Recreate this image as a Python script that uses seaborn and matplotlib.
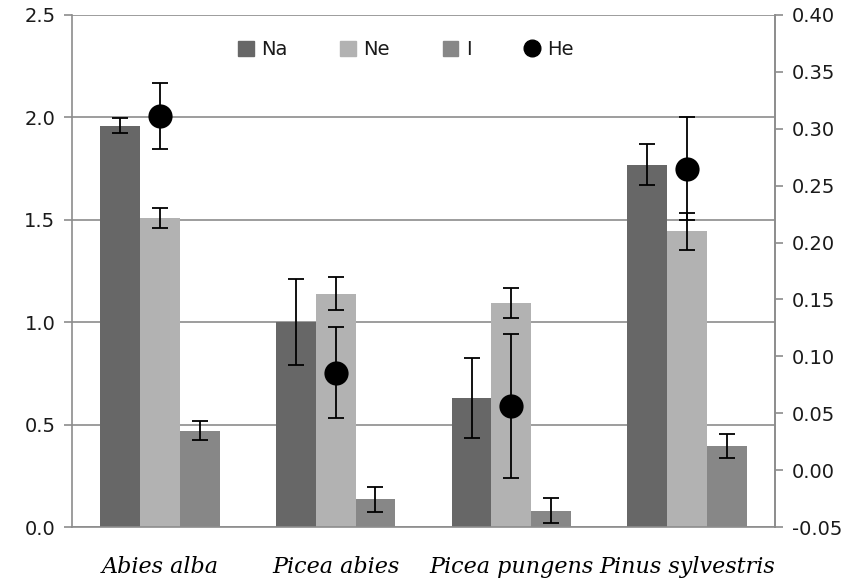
import pandas as pd
import numpy as np
import seaborn as sns
import matplotlib.pyplot as plt
from matplotlib.lines import Line2D
from matplotlib.patches import Patch

species = ['Abies alba', 'Picea abies', 'Picea pungens', 'Pinus sylvestris']
na = [1.96, 1.00, 0.63, 1.77]
na_err = [0.035, 0.21, 0.195, 0.10]
ne = [1.51, 1.14, 1.095, 1.445]
ne_err = [0.05, 0.08, 0.073, 0.09]
i_val = [0.47, 0.135, 0.08, 0.395]
i_err = [0.047, 0.06, 0.06, 0.058]
he = [0.311, 0.0855, 0.0565, 0.265]
he_err = [0.029, 0.04, 0.063, 0.045]

sns.set_style('white')
plt.rcParams['font.family'] = ['DejaVu Sans']

df = pd.DataFrame({
    'species': species * 3,
    'measure': ['Na'] * 4 + ['Ne'] * 4 + ['I'] * 4,
    'value': na + ne + i_val,
    'err': na_err + ne_err + i_err,
})
colors = {'Na': '#676767', 'Ne': '#b2b2b2', 'I': '#878787'}

fig = plt.figure(figsize=(8.54, 5.88), dpi=100)
ax = fig.add_axes([0.0843, 0.1037, 0.8232, 0.8708])
sns.barplot(data=df, x='species', y='value', hue='measure', palette=colors,
            width=0.68, errorbar=None, ax=ax, legend=False, saturation=1,
            edgecolor='none', zorder=2)

# error bars on the bars
for cont, m in zip(ax.containers, ['Na', 'Ne', 'I']):
    sub = df[df['measure'] == m]
    xs = [p.get_x() + p.get_width() / 2 for p in cont]
    ax.errorbar(xs, sub['value'], yerr=sub['err'], fmt='none', ecolor='black',
                elinewidth=1.3, capsize=6, capthick=1.3, zorder=3)

ax.set_ylim(0, 2.5)
ax.set_yticks(np.arange(0, 2.51, 0.5))
ax.set_yticklabels([f'{v:.1f}' for v in np.arange(0, 2.51, 0.5)])
ax.yaxis.grid(True, color='#8c8c8c', linewidth=1.2, zorder=0)
ax.set_axisbelow(True)
ax.set_xlim(-0.5, 3.5)
ax.set_xlabel('')
ax.set_ylabel('')
ax.set_xticks(range(4))
ax.set_xticklabels(species, family='DejaVu Serif', style='italic', fontsize=16)
ax.set_xticks(np.arange(-0.5, 3.6, 1), minor=True)
ax.tick_params(axis='x', which='major', length=0, pad=21, labelcolor='black')
ax.tick_params(axis='x', which='minor', length=7, color='#8c8c8c', width=1.2,
               direction='out')
ax.tick_params(axis='y', length=6, color='#8c8c8c', width=1.2, labelsize=14,
               direction='out', left=True, pad=6, labelcolor='#1a1a1a')
for s in ['left', 'bottom', 'right']:
    ax.spines[s].set_color('#8c8c8c')
    ax.spines[s].set_linewidth(1.2)
ax.spines['top'].set_visible(False)

# He on the secondary axis
ax2 = ax.twinx()
sns.scatterplot(x=np.arange(4), y=he, color='black', s=260, ax=ax2,
                edgecolor='black', zorder=5)
ax2.errorbar(np.arange(4), he, yerr=he_err, fmt='none', ecolor='black',
             elinewidth=1.3, capsize=6, capthick=1.3, zorder=4)
ax2.set_ylim(-0.05, 0.40)
ax2.set_yticks(np.arange(-0.05, 0.401, 0.05))
ax2.set_yticklabels([f'{v:.2f}' for v in np.arange(-0.05, 0.401, 0.05)])
ax2.tick_params(axis='y', length=6, color='#8c8c8c', width=1.2, labelsize=14,
                direction='out', right=True, pad=6, labelcolor='#1a1a1a')
for s in ['left', 'bottom', 'top']:
    ax2.spines[s].set_visible(False)
ax2.spines['right'].set_color('#8c8c8c')
ax2.spines['right'].set_linewidth(1.2)
ax2.set_xlim(-0.5, 3.5)

handles = [Patch(color=colors['Na'], label='Na'),
           Patch(color=colors['Ne'], label='Ne'),
           Patch(color=colors['I'], label='I'),
           Line2D([], [], marker='o', color='black', linestyle='none',
                  markersize=12, label='He')]
ax2.legend(handles=handles, loc='upper center', bbox_to_anchor=(0.475, 0.985),
           ncol=4, frameon=False, fontsize=14, handlelength=0.8,
           handleheight=0.8, handletextpad=0.4, columnspacing=2.7,
           labelcolor='#1a1a1a')

fig.savefig('out.png', dpi=100)
